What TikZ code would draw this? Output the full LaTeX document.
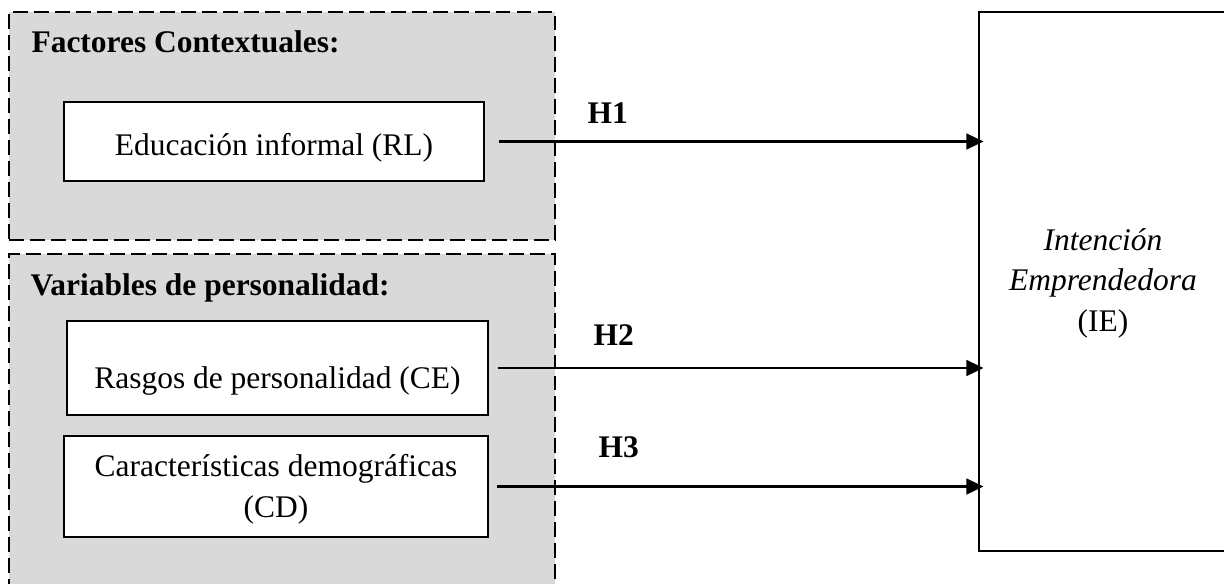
\documentclass[tikz,border=0pt]{standalone}
\usepackage{fontspec}
\setmainfont{Liberation Serif}
\usetikzlibrary{arrows.meta,positioning,fit}
\definecolor{grpgray}{RGB}{217,217,217}
\tikzset{
    grp/.style={rectangle, draw, fill=grpgray, line width=0.75pt,
                dash pattern=on 5.7pt off 2.3pt, inner sep=0pt},
    vbox/.style={rectangle, draw, fill=white, line width=0.5pt, inner sep=0pt},
    txt/.style={inner sep=0pt, align=center, font=\fontsize{12}{15.4}\selectfont},
    hdr/.style={inner sep=0pt, anchor=base west, font=\fontsize{12}{15.4}\selectfont\bfseries},
    arr/.style={-{Triangle[length=6.5pt,width=6pt]}, line width=0.9pt},
}

\begin{document}
\begin{tikzpicture}[x=0.0134cm, y=-0.0134cm]
    \useasboundingbox (0,0) rectangle (1224,583);
    \clip (0,0) rectangle (1224,583);

    % Group frames
    \node[grp, fit={(9,12) (555,240)}]  (ctx)  {};
    \node[grp, fit={(9,254) (555,600)}] (pers) {};
    \node[hdr] (ctxhdr)  at (31,52)  {Factores Contextuales:};
    \node[hdr] (pershdr) at (30,295) {Variables de personalidad:};

    % Variable boxes
    \node[vbox, fit={(64,102) (484,181)}] (rl) {};
    \node[vbox, fit={(67,321) (488,415)}] (ce) {};
    \node[vbox, fit={(64,436) (488,537)}] (cd) {};
    \node[txt, anchor=base] (rltxt) at (274,155)   {Educación informal (RL)};
    \node[txt, anchor=base] (cetxt) at (277.5,388) {Rasgos de personalidad (CE)};
    \node[txt, anchor=base] (cdtxt) at (276,517)   {Características demográficas\\(CD)};

    % Outcome
    \node[vbox, line width=0.6pt, fit={(979,12) (1228,551)}] (ie) {};
    \node[txt, anchor=base] (ietxt) at (1103,331) {\textit{Intención}\\\textit{Emprendedora}\\(IE)};

    % Hypotheses
    \draw[arr] (rl.east) ++(14,0) -- ([xshift=2pt]ie.west |- rl.east);
    \draw[arr] (ce.east) ++(9,0)  -- ([xshift=2pt]ie.west |- ce.east);
    \draw[arr] (cd.east) ++(8,0)  -- ([xshift=2pt]ie.west |- cd.east);
    \node[hdr] (h1) at (587,123) {H1};
    \node[hdr] (h2) at (593,345) {H2};
    \node[hdr] (h3) at (598,457) {H3};
\end{tikzpicture}
\end{document}
